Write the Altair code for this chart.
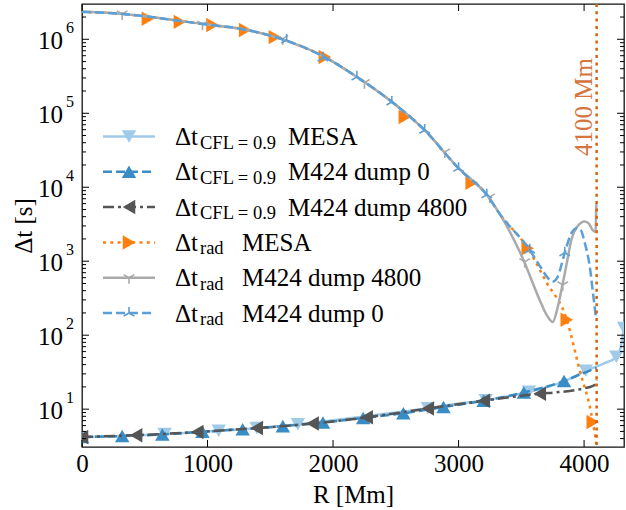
import altair as alt
import pandas as pd

FONT = "Liberation Serif"
W, H = 542, 443

# ---------------- data ----------------
# Δt_CFL=0.9 MESA
cfl_mesa_R = [0, 200, 400, 658, 850, 1089, 1250, 1392, 1550, 1720, 1900, 2100, 2300, 2500, 2755,
              2950, 3216, 3400, 3560, 3700, 3846, 4013, 4150, 4257, 4285, 4318]
cfl_mesa_v = [4.2, 4.28, 4.4, 4.62, 4.8, 5.12, 5.33, 5.55, 5.85, 6.25, 6.75, 7.4, 8.2, 9.0, 10.3,
              11.6, 13.2, 15.0, 17.2, 19.8, 24.0, 33.0, 41.0, 51.0, 62.0, 125.0]
cfl_mesa_mR = [658, 1089, 1392, 1720, 2755, 3216, 3560, 4013, 4257, 4318]
cfl_mesa_mv = [4.62, 5.12, 5.55, 6.25, 10.3, 13.2, 17.2, 33.0, 51.0, 125.0]

# Δt_CFL=0.9 M424 dump 0
cfl_d0_R = [0, 320, 640, 960, 1280, 1600, 1920, 2240, 2560, 2880, 3200, 3520, 3840, 3960, 4050, 4100]
cfl_d0_v = [4.2, 4.33, 4.55, 4.95, 5.36, 5.9, 6.6, 7.6, 8.8, 10.7, 13.0, 16.8, 24.0, 29.0, 33.5, 36.0]
cfl_d0_mR = [0, 320, 640, 960, 1280, 1600, 1920, 2240, 2560, 2880, 3200, 3520, 3840]
cfl_d0_mv = [4.2, 4.33, 4.55, 4.95, 5.36, 5.9, 6.6, 7.6, 8.8, 10.7, 13.0, 16.8, 24.0]

# Δt_CFL=0.9 M424 dump 4800
cfl_d48_R = [0, 431, 918, 1392, 1837, 2268, 2755, 3201, 3647, 3800, 3950, 4018, 4060, 4085, 4100]
cfl_d48_v = [4.2, 4.45, 4.9, 5.55, 6.4, 7.75, 10.2, 13.0, 16.2, 17.0, 18.3, 19.4, 20.3, 21.5, 25.0]
cfl_d48_mR = [0, 431, 918, 1392, 1837, 2268, 2755, 3201, 3647]
cfl_d48_mv = [4.2, 4.45, 4.9, 5.55, 6.4, 7.75, 10.2, 13.0, 16.2]

# common upper branch (Δt_rad) up to ~3300 Mm
up_R = [0, 250, 500, 750, 1000, 1250, 1500, 1750, 1930, 2190, 2470, 2730, 3000, 3225, 3330]
up_v = [2.35e6, 2.25e6, 2.05e6, 1.8e6, 1.58e6, 1.4e6, 1.12e6, 8.0e5, 5.8e5, 3.1e5, 1.42e5,
        5.9e4, 1.8e4, 7.9e3, 4.3e3]

# Δt_rad MESA
rad_mesa_tR = [3551, 3700, 3862, 3960, 4069, 4100, 4108]
rad_mesa_tv = [1500, 520, 162, 36, 6.7, 3.0, 2.0]
rad_mesa_mR = [525, 780, 1040, 1300, 1537, 1935, 2572, 3105, 3551, 3862, 4069]
rad_mesa_mv = [1.9e6, 1.72e6, 1.56e6, 1.34e6, 1.07e6, 5.75e5, 8.9e4, 1.15e4, 1.5e3, 162, 6.7]

# Δt_rad M424 dump 4800
rad_d48_tR = [3511, 3646, 3700, 3750, 3790, 3819, 3860, 3899, 3950, 4005, 4040, 4068, 4092, 4096, 4098]
rad_d48_tv = [1100, 300, 190, 151, 240, 405, 900, 1950, 3000, 3430, 3200, 2630, 2500, 4500, 6000]
rad_d48_mR = [320, 960, 1600, 2250, 2890, 3248, 3527, 3830]
rad_d48_mv = [2.2e6, 1.6e6, 1.02e6, 2.6e5, 3.0e4, 7.4e3, 985, 480]

# Δt_rad M424 dump 0
rad_d0_tR = [3567, 3650, 3726, 3752, 3790, 3846, 3899, 3941, 3975, 4005, 4045, 4071, 4090, 4095]
rad_d0_tv = [1420, 850, 560, 530, 620, 1300, 2400, 2800, 2600, 1780, 850, 370, 200, 170]
rad_d0_mR = [1630, 1920, 2190, 2468, 2730, 3000, 3225, 3567, 3846]
rad_d0_mv = [9.8e5, 5.6e5, 3.1e5, 1.42e5, 5.9e4, 1.8e4, 7.9e3, 1420, 1300]

vline_R = [4100]
vline_label = "4100 Mm"

x_ticks = [0, 1000, 2000, 3000, 4000]
y_exps = [1, 2, 3, 4, 5, 6]

# ---------------- styles ----------------
C_MESA_CFL = "#9fcbe8"
C_D0_CFL = "#3a8cc4"
C_D48_CFL = "#555555"
C_MESA_RAD = "#ff7f0e"
C_D48_RAD = "#aaaaaa"
C_D0_RAD = "#5a9fd6"
C_VLINE = "#d9620f"

TRI_DOWN = "M0,0L0,1M0,0L-0.866,-0.5M0,0L0.866,-0.5"
TRI_UP = "M0,0L0,-1M0,0L-0.866,0.5M0,0L0.866,0.5"

xs = alt.Scale(domain=[0, 4318], nice=False, zero=False)
ys = alt.Scale(type="log", domain=[3.08, 3.0e6], nice=False)
X = alt.X("R:Q", scale=xs,
          axis=alt.Axis(values=x_ticks, ticks=False, domain=False, grid=False, format="d",
                        labelFont=FONT, labelFontSize=25, labelColor="black", labelPadding=4,
                        labelFlush=False, title="R [Mm]", titleFont=FONT, titleFontSize=25,
                        titleFontWeight="normal", titleColor="black", titlePadding=6))
Y = alt.Y("v:Q", scale=ys,
          axis=alt.Axis(labels=False, ticks=False, domain=False, grid=False,
                        title="Δt [s]", titleFont=FONT, titleFontSize=25,
                        titleFontWeight="normal", titleColor="black", titlePadding=46))


def line_layer(R, v, color, dash=None, width=2.5):
    kw = dict(color=color, strokeWidth=width, interpolate="monotone", clip=True)
    if dash:
        kw["strokeDash"] = dash
    return alt.Chart(pd.DataFrame({"R": R, "v": v})).mark_line(**kw).encode(x=X, y=Y)


def point_layer(R, v, color, shape, size=200, filled=True):
    kw = dict(shape=shape, color=color, size=size, opacity=1, clip=True, filled=filled)
    if not filled:
        kw["strokeWidth"] = 1.6
    return alt.Chart(pd.DataFrame({"R": R, "v": v})).mark_point(**kw).encode(x=X, y=Y)


DASH = [9, 4]
DASHDOT = [11, 4, 3, 4]
DOT = [3, 4.3]

series = [
    # (line R, line v, marker R, marker v, color, dash, shape, filled, size)
    (cfl_mesa_R, cfl_mesa_v, cfl_mesa_mR, cfl_mesa_mv, C_MESA_CFL, None, "triangle-down", True, 210),
    (cfl_d0_R, cfl_d0_v, cfl_d0_mR, cfl_d0_mv, C_D0_CFL, DASH, "triangle-up", True, 210),
    (cfl_d48_R, cfl_d48_v, cfl_d48_mR, cfl_d48_mv, C_D48_CFL, DASHDOT, "triangle-left", True, 210),
    (up_R + rad_mesa_tR, up_v + rad_mesa_tv, rad_mesa_mR, rad_mesa_mv, C_MESA_RAD, DOT, "triangle-right", True, 210),
    (up_R + rad_d48_tR, up_v + rad_d48_tv, rad_d48_mR, rad_d48_mv, C_D48_RAD, None, TRI_DOWN, False, 150),
    (up_R + rad_d0_tR, up_v + rad_d0_tv, rad_d0_mR, rad_d0_mv, C_D0_RAD, DASH, TRI_UP, False, 150),
]

layers = []
for lR, lv, mR, mv, col, dash, shp, filled, size in series:
    layers.append(line_layer(lR, lv, col, dash))
    layers.append(point_layer(mR, mv, col, shp, size, filled))

# vertical marker line and its label
layers.append(alt.Chart(pd.DataFrame({"R": vline_R})).mark_rule(
    color=C_VLINE, strokeWidth=2.5, strokeDash=[3, 4.3]).encode(
    x=X, y=alt.value(0), y2=alt.value(H)))
layers.append(alt.Chart(pd.DataFrame({"R": vline_R})).mark_text(
    text=vline_label, angle=270, font=FONT, fontSize=25, color="#d4753f",
    align="center", baseline="bottom").encode(x=X, y=alt.value(103)))

# inward ticks on all four sides
y_major = [10.0 ** e for e in y_exps]
y_minor = [k * 10.0 ** n for n in range(0, 7) for k in range(2, 10) if 3.08 < k * 10.0 ** n < 3.0e6]
for vals, ln in ((y_major, 7), (y_minor, 4)):
    df = pd.DataFrame({"v": vals})
    layers.append(alt.Chart(df).mark_rule(color="black", strokeWidth=1).encode(
        y=Y, x=alt.value(0), x2=alt.value(ln)))
    layers.append(alt.Chart(df).mark_rule(color="black", strokeWidth=1).encode(
        y=Y, x=alt.value(W - ln), x2=alt.value(W)))
dfx = pd.DataFrame({"R": x_ticks})
layers.append(alt.Chart(dfx).mark_rule(color="black", strokeWidth=1).encode(
    x=X, y=alt.value(H - 7), y2=alt.value(H)))
layers.append(alt.Chart(dfx).mark_rule(color="black", strokeWidth=1).encode(
    x=X, y=alt.value(0), y2=alt.value(7)))

# y tick labels 10^n
ylab = pd.DataFrame({"v": y_major, "e": [str(e) for e in y_exps]})
layers.append(alt.Chart(ylab).mark_text(font=FONT, fontSize=25, align="right", baseline="middle",
                                        dy=1.5, color="black").encode(
    y=Y, x=alt.value(-19), text=alt.value("10")))
layers.append(alt.Chart(ylab).mark_text(font=FONT, fontSize=16, align="right", baseline="middle",
                                        dy=-11, color="black").encode(
    y=Y, x=alt.value(-8), text="e:N"))

# legend (built by hand so that subscripts can be shown)
leg_sub = ["CFL = 0.9", "CFL = 0.9", "CFL = 0.9", "rad", "rad", "rad"]
leg_suffix = ["MESA", "M424 dump 0", "M424 dump 4800", "MESA", "M424 dump 4800", "M424 dump 0"]
one = pd.DataFrame({"a": [0]})
for i, (lR, lv, mR, mv, col, dash, shp, filled, size) in enumerate(series):
    yc = 132.5 + 35.3 * i
    rk = dict(color=col, strokeWidth=2.5)
    if dash:
        rk["strokeDash"] = dash
    layers.append(alt.Chart(one).mark_rule(**rk).encode(
        x=alt.value(21), x2=alt.value(73), y=alt.value(yc)))
    pk = dict(shape=shp, color=col, size=size, opacity=1, filled=filled)
    if not filled:
        pk["strokeWidth"] = 1.6
    layers.append(alt.Chart(one).mark_point(**pk).encode(x=alt.value(47), y=alt.value(yc)))
    layers.append(alt.Chart(one).mark_text(text="Δt", font=FONT, fontSize=25, align="left",
                                           baseline="alphabetic", color="black").encode(
        x=alt.value(93), y=alt.value(yc + 8.5)))
    layers.append(alt.Chart(one).mark_text(text=leg_sub[i], font=FONT, fontSize=18.5, align="left",
                                           baseline="alphabetic", color="black").encode(
        x=alt.value(118), y=alt.value(yc + 12)))
    layers.append(alt.Chart(one).mark_text(text=leg_suffix[i], font=FONT, fontSize=25, align="left",
                                           baseline="alphabetic", color="black").encode(
        x=alt.value(206 if i < 3 else 160), y=alt.value(yc + 8.5)))

chart = alt.layer(*layers).properties(
    width=W, height=H,
    autosize=alt.AutoSizeParams(type="none"),
    padding={"left": 82, "top": 4, "right": 2, "bottom": 63},
    background="white",
).configure_view(stroke="#111111", strokeWidth=1.3)

chart.save("out.html", embed_options={"renderer": "svg", "actions": False})
